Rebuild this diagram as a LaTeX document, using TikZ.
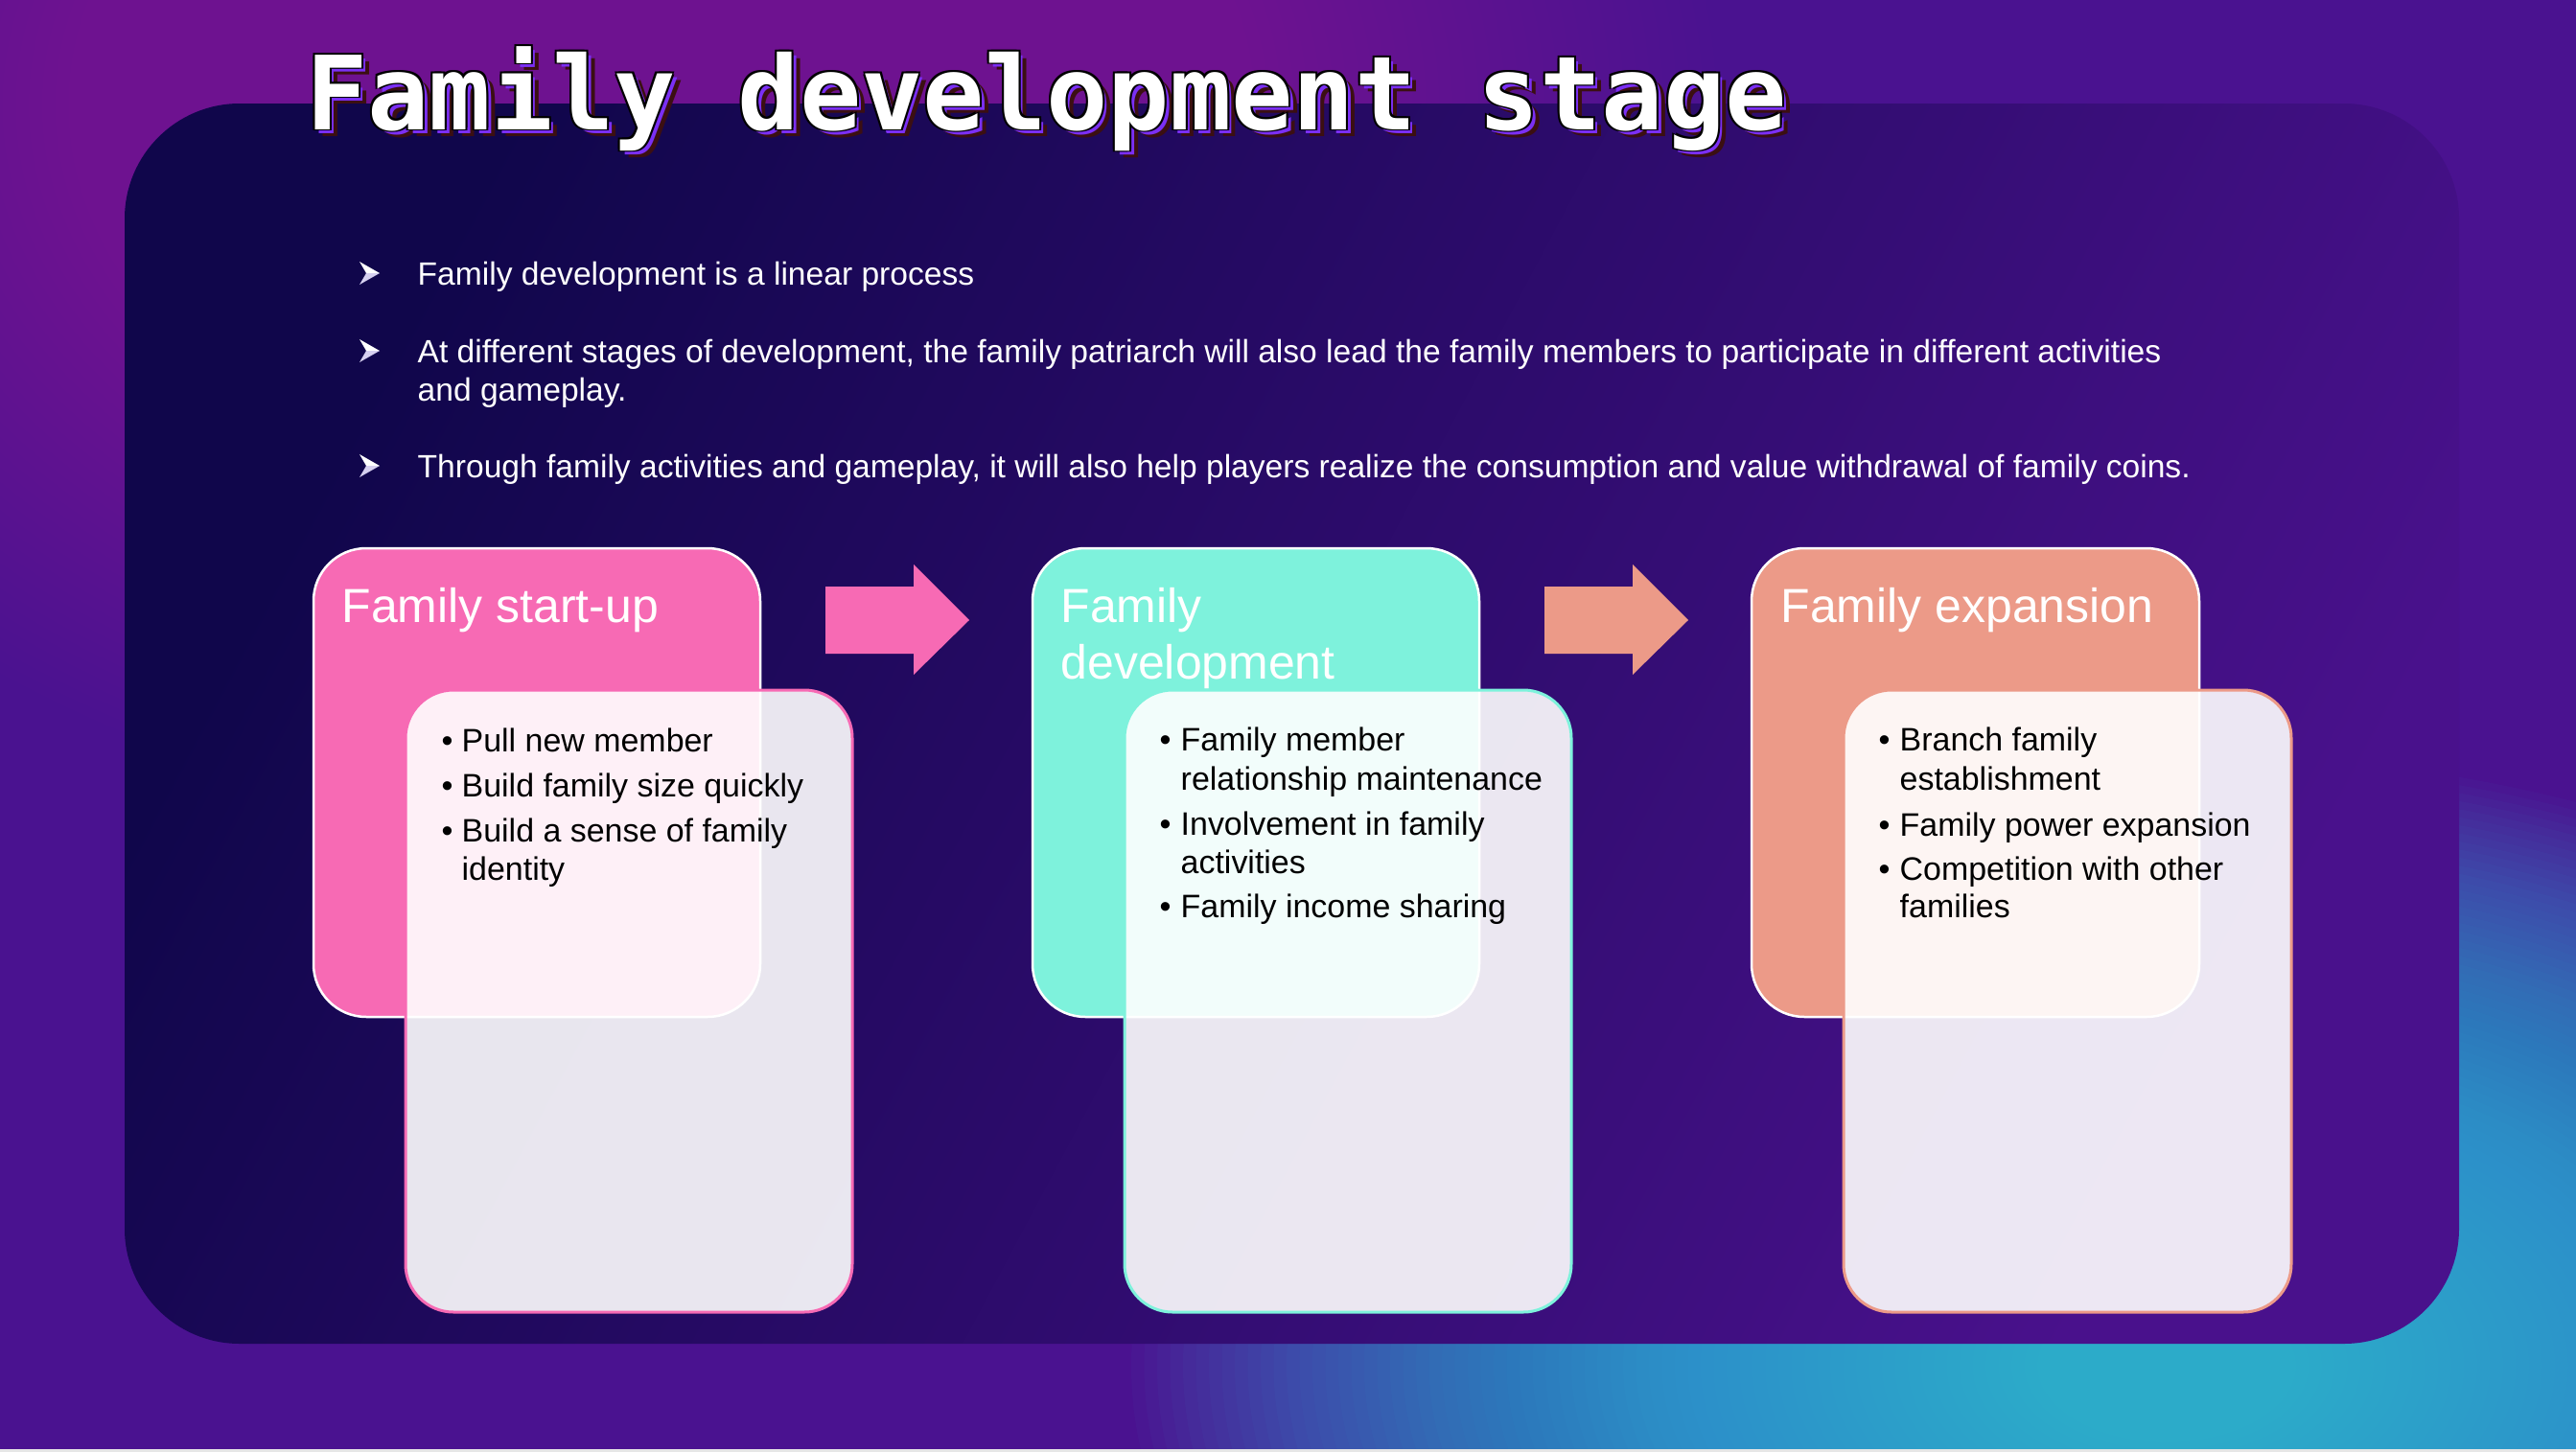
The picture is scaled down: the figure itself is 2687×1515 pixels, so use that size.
\documentclass[tikz,border=0pt]{standalone}
\usepackage{fontspec}
\setmainfont{Liberation Sans}
\newfontfamily\titlefont{DejaVu Sans Mono}

\definecolor{bgbase}{HTML}{4A1290}
\definecolor{glowpink}{HTML}{98159A}
\definecolor{glowcyan}{HTML}{2CCAE8}
\definecolor{panelA}{HTML}{10064B}
\definecolor{panelB}{HTML}{33085D}
\definecolor{panelC}{HTML}{49118C}
\definecolor{pinkcard}{HTML}{F76AB4}
\definecolor{cyancard}{HTML}{7EF2DC}
\definecolor{salmoncard}{HTML}{EC9A88}
\definecolor{tpurple}{HTML}{7B2FF4}
\definecolor{tdark}{HTML}{3B0F12}
\definecolor{arrowshade}{HTML}{D6D0F0}
\definecolor{edgegray}{HTML}{E6E6E6}

% small 3D arrowhead used as an intro bullet
\newcommand\introarrow[2]{%
  \fill[white] (#1+21,#2) -- (#1,#2-12) -- (#1+7,#2) -- cycle;
  \fill[arrowshade] (#1+21,#2) -- (#1+7,#2) -- (#1,#2+12) -- cycle;}

\begin{document}
\begin{tikzpicture}[x=0.01cm,y=-0.01cm,
  titletxt/.style={anchor=base west, inner sep=0, font=\titlefont\bfseries\fontsize{30.4}{36}\selectfont},
  intro/.style={anchor=base west, inner sep=0, text=white, font=\fontsize{9.55}{11}\selectfont},
  cardtitle/.style={anchor=base west, inner sep=0, text=white, font=\fontsize{14.2}{16.8}\selectfont},
  item/.style={anchor=base west, inner sep=0, text=black, font=\fontsize{9.65}{11.5}\selectfont},
  backcard/.style={draw=white, line width=0.025cm, rounded corners=0.55cm},
  frontcard/.style={fill=white, fill opacity=0.9, line width=0.03cm, rounded corners=0.5cm}
]
\useasboundingbox (0,0) rectangle (2687,1515);

% background: base purple with a magenta glow (top left) and a cyan glow (bottom right),
% each built from stacked translucent ellipses
\fill[bgbase] (0,0) rectangle (2687,1515);
\foreach \i in {80,79,...,1}
  \fill[glowpink, fill opacity=0.025] (690,110) ellipse ({13.75*\i} and {9.5*\i});
\foreach \i in {80,79,...,1}
  \fill[glowcyan, fill opacity=0.032] (2260,1425) ellipse ({13.5*\i} and {8*\i});
\fill[edgegray] (0,1512) rectangle (2687,1515);

% main panel
\shade[left color=panelA, middle color=panelB, right color=panelC, shading angle=62,
       rounded corners=1.2cm] (130,108) rectangle (2565,1402);

% heading with layered shadow and outline
\node[titletxt, text=tdark] (ttl3) at (327,143) {Family development stage};
\node[titletxt, text=tpurple] (ttl2) at (323,139) {Family development stage};
\node[titletxt, text=black] (ttlo1) at (320.5,136.5) {Family development stage};
\node[titletxt, text=black] (ttlo2) at (316.5,133.5) {Family development stage};
\node[titletxt, text=black] (ttlo3) at (320.5,133.5) {Family development stage};
\node[titletxt, text=black] (ttlo4) at (316.5,136.5) {Family development stage};
\node[titletxt, text=white] (ttl) at (318.5,135) {Family development stage};

% intro points
\introarrow{375}{285}
\node[intro] (p1) at (435,297) {Family development is a linear process};
\introarrow{375}{366}
\node[intro] (p2a) at (435,378) {At different stages of development, the family patriarch will also lead the family members to participate in different activities};
\node[intro] (p2b) at (435,418) {and gameplay.};
\introarrow{375}{486}
\node[intro] (p3) at (435,498) {Through family activities and gameplay, it will also help players realize the consumption and value withdrawal of family coins.};

% stage 1
\draw[backcard, fill=pinkcard] (327,572) rectangle (793,1061);
\node[cardtitle] (t1) at (356,649) {Family start-up};
\draw[frontcard, draw=pinkcard] (423,720) rectangle (889,1369);
\node[item] (b11) at (460,784) {\textbullet};
\node[item] (i11) at (481,784) {Pull new member};
\node[item] (b12) at (460,831) {\textbullet};
\node[item] (i12) at (481,831) {Build family size quickly};
\node[item] (b13) at (460,878) {\textbullet};
\node[item] (i13) at (481,878) {Build a sense of family};
\node[item] (i13b) at (481,918) {identity};

% arrow 1
\fill[pinkcard] (861,612) -- (953,612) -- (953,589) -- (1011,647) -- (953,704) -- (953,682) -- (861,682) -- cycle;

% stage 2
\draw[backcard, fill=cyancard] (1077,572) rectangle (1543,1061);
\node[cardtitle] (t2a) at (1106,649) {Family};
\node[cardtitle] (t2b) at (1106,708) {development};
\draw[frontcard, draw=cyancard] (1173,720) rectangle (1639,1369);
\node[item] (b21) at (1209,783) {\textbullet};
\node[item] (i21) at (1231,783) {Family member};
\node[item] (i21b) at (1231,824) {relationship maintenance};
\node[item] (b22) at (1209,871) {\textbullet};
\node[item] (i22) at (1231,871) {Involvement in family};
\node[item] (i22b) at (1231,911) {activities};
\node[item] (b23) at (1209,957) {\textbullet};
\node[item] (i23) at (1231,957) {Family income sharing};

% arrow 2
\fill[salmoncard] (1611,612) -- (1703,612) -- (1703,589) -- (1761,647) -- (1703,704) -- (1703,682) -- (1611,682) -- cycle;

% stage 3
\draw[backcard, fill=salmoncard] (1827,572) rectangle (2294,1061);
\node[cardtitle] (t3) at (1857,649) {Family expansion};
\draw[frontcard, draw=salmoncard] (1923,720) rectangle (2390,1369);
\node[item] (b31) at (1959,783) {\textbullet};
\node[item] (i31) at (1981,783) {Branch family};
\node[item] (i31b) at (1981,824) {establishment};
\node[item] (b32) at (1959,872) {\textbullet};
\node[item] (i32) at (1981,872) {Family power expansion};
\node[item] (b33) at (1959,918) {\textbullet};
\node[item] (i33) at (1981,918) {Competition with other};
\node[item] (i33b) at (1981,957) {families};
\end{tikzpicture}
\end{document}
